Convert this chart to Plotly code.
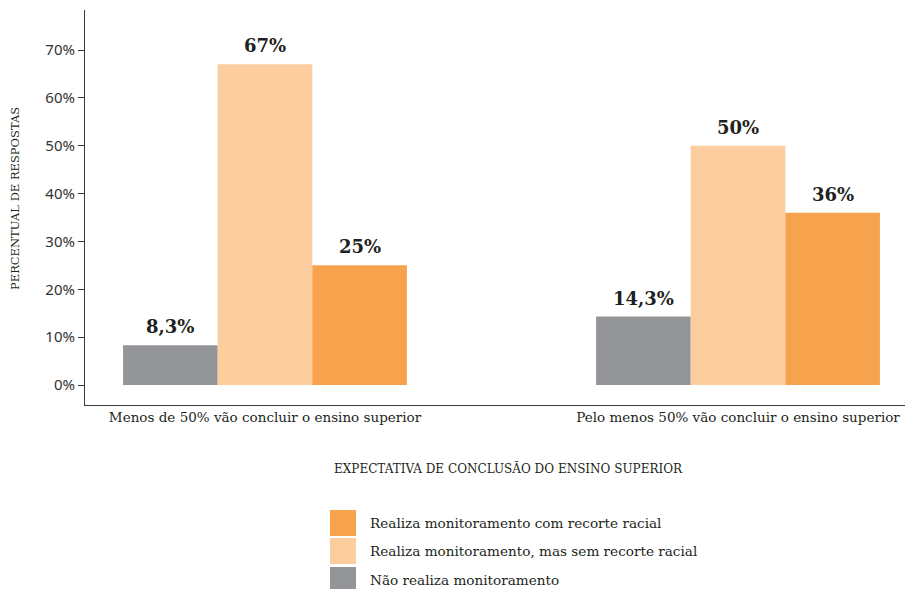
import plotly.graph_objects as go

# Data
categories = [
    "Menos de 50% vão concluir o ensino superior",
    "Pelo menos 50% vão concluir o ensino superior",
]
series_names = [
    "Não realiza monitoramento",
    "Realiza monitoramento, mas sem recorte racial",
    "Realiza monitoramento com recorte racial",
]
nao_realiza = [8.3, 14.3]
sem_recorte = [67, 50]
com_recorte = [25, 36]
series_values = [nao_realiza, sem_recorte, com_recorte]
series_colors = ["#939598", "#FBCD9F", "#F7A34D"]

y_ticks = [0, 10, 20, 30, 40, 50, 60, 70]
y_ticklabels = [f"{v}%" for v in y_ticks]

TEXT = "#231F20"
FONT = "DejaVu Serif"
TICK_FONT = "Noto Sans"

# Figure geometry (pixels)
W, H = 909, 589
ML, MR, MT, MB = 85, 4, 10, 184
PW, PH = W - ML - MR, H - MT - MB


def px_x(px):
    return (px - ML) / PW


def px_y(py):
    return (H - MB - py) / PH


def fmt(v):
    if float(v).is_integer():
        return f"{int(v)}%"
    return f"{v:.1f}".replace(".", ",") + "%"


BAR_W = 0.2
fig = go.Figure()
x_idx = list(range(len(categories)))
for name, vals, color in zip(series_names, series_values, series_colors):
    fig.add_trace(go.Bar(
        x=x_idx, y=vals, name=name, marker_color=color,
        marker_line_width=0, width=BAR_W, showlegend=False,
    ))

annotations = []
# Value labels above bars
for j, vals in enumerate(series_values):
    for i, v in enumerate(vals):
        annotations.append(dict(
            x=i + (j - 1) * BAR_W, y=v, xref="x", yref="y",
            text=f"<b>{fmt(v)}</b>", showarrow=False,
            yanchor="bottom", yshift=6,
            font=dict(family=FONT, size=18, color=TEXT),
        ))

# Axis titles
annotations.append(dict(
    x=px_x(15), y=px_y(199), xref="paper", yref="paper",
    text="PERCENTUAL DE RESPOSTAS", textangle=-90, showarrow=False,
    xanchor="center", yanchor="middle",
    font=dict(family=FONT, size=11.5, color=TEXT),
))
annotations.append(dict(
    x=px_x(508), y=px_y(468), xref="paper", yref="paper",
    text="EXPECTATIVA DE CONCLUSÃO DO ENSINO SUPERIOR", showarrow=False,
    xanchor="center", yanchor="middle",
    font=dict(family=FONT, size=12, color=TEXT),
))

# Custom legend (top to bottom: reversed series order)
shapes = []
legend_rows = [510, 538, 567]
for row_top, name, color in zip(legend_rows, series_names[::-1], series_colors[::-1]):
    shapes.append(dict(
        type="rect", xref="paper", yref="paper",
        x0=px_x(330), x1=px_x(356), y0=px_y(row_top), y1=px_y(row_top + 26),
        fillcolor=color, line_width=0,
    ))
    annotations.append(dict(
        x=px_x(368), y=px_y(row_top + 13), xref="paper", yref="paper",
        text=name, showarrow=False, xanchor="left", yanchor="middle",
        font=dict(family=FONT, size=13.6, color=TEXT),
    ))

fig.update_layout(
    width=W, height=H,
    margin=dict(l=ML, r=MR, t=MT, b=MB),
    paper_bgcolor="white", plot_bgcolor="white",
    barmode="group", bargap=0.4, bargroupgap=0,
    showlegend=False,
    annotations=annotations, shapes=shapes,
    font=dict(family=FONT, color=TEXT),
)
fig.update_xaxes(
    range=[-0.3805, 1.353], tickvals=x_idx, ticktext=categories,
    showgrid=False, zeroline=False, showline=True, linecolor="#3a3a3a",
    linewidth=1, ticks="", tickfont=dict(family=FONT, size=13.5, color=TEXT),
)
fig.update_yaxes(
    range=[-4.18, 78.36], tickvals=y_ticks, ticktext=y_ticklabels,
    showgrid=False, zeroline=False, showline=True, linecolor="#3a3a3a",
    linewidth=1, ticks="outside", ticklen=6, tickcolor="#3a3a3a",
    tickfont=dict(family=TICK_FONT, size=15, color="#333333"),
)

fig.write_html("out.html")
